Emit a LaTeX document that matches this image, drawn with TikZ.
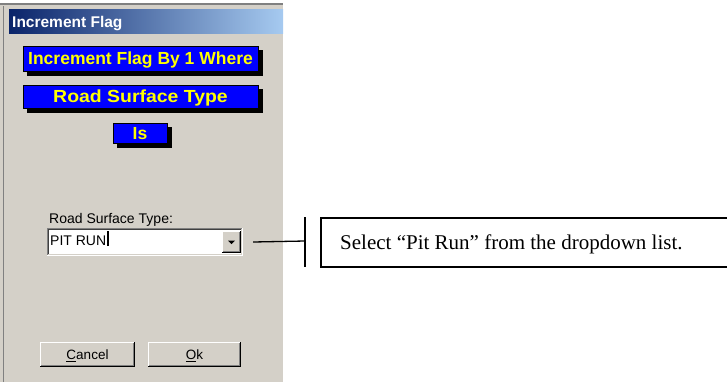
\documentclass[tikz,border=0pt]{standalone}
\usepackage{fontspec}
\setmainfont{Liberation Serif}
\setsansfont{Liberation Sans}
\usetikzlibrary{shadows}
\definecolor{winbg}{HTML}{D4D0C8}
\definecolor{navy}{HTML}{0A246A}
\definecolor{ltblue}{HTML}{A6CAF0}
\definecolor{dgray}{HTML}{808080}
\definecolor{dkgray}{HTML}{404040}
\definecolor{bannerblue}{HTML}{0000FF}
\definecolor{banneryellow}{HTML}{FFFF00}
\newcommand\winraised[1]{%
  \draw[white,line width=1pt] ([shift={(0.5,-0.5)}]#1.south west) |- ([shift={(-0.5,0.5)}]#1.north east);
  \draw[black,line width=1pt] ([shift={(0.5,-0.5)}]#1.south west) -| ([shift={(-0.5,0.5)}]#1.north east);
  \draw[dgray,line width=1pt] ([shift={(1.5,-1.5)}]#1.south west) -| ([shift={(-1.5,1.5)}]#1.north east);
}
\newcommand\winsunken[1]{%
  \draw[dgray,line width=1pt] ([shift={(0.5,-0.5)}]#1.south west) |- ([shift={(-0.5,0.5)}]#1.north east);
  \draw[white,line width=1pt] ([shift={(0.5,-0.5)}]#1.south west) -| ([shift={(-0.5,0.5)}]#1.north east);
  \draw[dkgray,line width=1pt] ([shift={(1.5,-1.5)}]#1.south west) |- ([shift={(-1.5,1.5)}]#1.north east);
  \draw[winbg,line width=1pt] ([shift={(1.5,-1.5)}]#1.south west) -| ([shift={(-1.5,1.5)}]#1.north east);
}
\tikzset{
  banner/.style={fill=bannerblue, draw=black, line width=1pt, inner sep=0pt,
    text=banneryellow, font=\sffamily\bfseries\fontsize{17.5}{18}\selectfont,
    text height=12pt, text depth=0pt,
    copy shadow={shadow xshift=4pt, shadow yshift=-4pt, fill=black, draw=black}},
  titletext/.style={text=white, font=\sffamily\bfseries\fontsize{15.5}{16}\selectfont, inner sep=0pt},
  dlgtext/.style={text=black, font=\sffamily\fontsize{14}{15}\selectfont, inner sep=0pt},
  winbtn/.style={fill=winbg, inner sep=0pt, font=\sffamily\fontsize{13.5}{14}\selectfont,
    text height=9.7pt, text depth=0pt},
  conn/.style={draw=black, line width=1.3pt},
  calloutbox/.style={draw=black, line width=1.3pt, inner sep=0pt},
  callouttext/.style={font=\fontsize{21}{24}\selectfont, inner sep=0pt}
}
\begin{document}
\begin{tikzpicture}[x=1pt,y=-1pt]
\clip (0,0) rectangle (727,383);
\fill[white] (0,0) rectangle (727,383);
% window
\fill[winbg] (0,3) rectangle (283,382);
\draw[dgray,line width=2pt] (0,4) -- (283,4);
\draw[dgray,line width=1pt] (3.5,6) -- (3.5,381.5);
\draw[white,line width=1pt] (0,382) -- (283,382);
\shade[left color=navy, right color=ltblue] (9,9) rectangle (283,33);
\node[titletext, anchor=base west] (title) at (12,27) {Increment Flag};
% banners
\node[banner, minimum width=235pt, minimum height=25pt] (b1) at (140.5,58.5) {Increment Flag By 1 Where};
\node[banner, minimum width=235pt, minimum height=23pt] (b2) at (140.5,96.5) {\scalebox{1.11}[1]{Road Surface Type}};
\node[banner, minimum width=54pt, minimum height=20pt] (b3) at (140,133) {Is};
% combo
\node[dlgtext, anchor=base west] (lbl) at (49,223) {Road Surface Type:};
\node[fill=white, minimum width=196pt, minimum height=28pt, inner sep=0pt] (combo) at (145,242) {};
\winsunken{combo}
\node[dlgtext, anchor=base west] (pitrun) at (50,245) {PIT RUN};
\draw[black,line width=1.2pt] (pitrun.base east) ++(1.5,1) -- ++(0,-15);
\node[fill=winbg, minimum width=19pt, minimum height=22pt, inner sep=0pt] (ddbtn) at (231.5,242) {};
\winraised{ddbtn}
\fill[black] (228,240.5) -- (235,240.5) -- (231.5,244) -- cycle;
% buttons
\node[winbtn, minimum width=95pt, minimum height=25pt] (cancel) at (87.5,354.5) {\underline{C}ancel};
\winraised{cancel}
\node[winbtn, minimum width=93pt, minimum height=25pt] (ok) at (194.5,354.5) {\underline{O}k};
\winraised{ok}
% callout
\coordinate (bar) at (305,241);
\draw[conn] ([xshift=10pt]combo.east) -- (bar);
\draw[conn] (bar) ++(0,-24) -- ++(0,50);
\node[calloutbox, minimum width=424pt, minimum height=49pt] (callout) at (533,242.5) {};
\node[callouttext, anchor=base west] (calltext) at (340,249) {Select “Pit Run” from the dropdown list.};
\end{tikzpicture}
\end{document}
